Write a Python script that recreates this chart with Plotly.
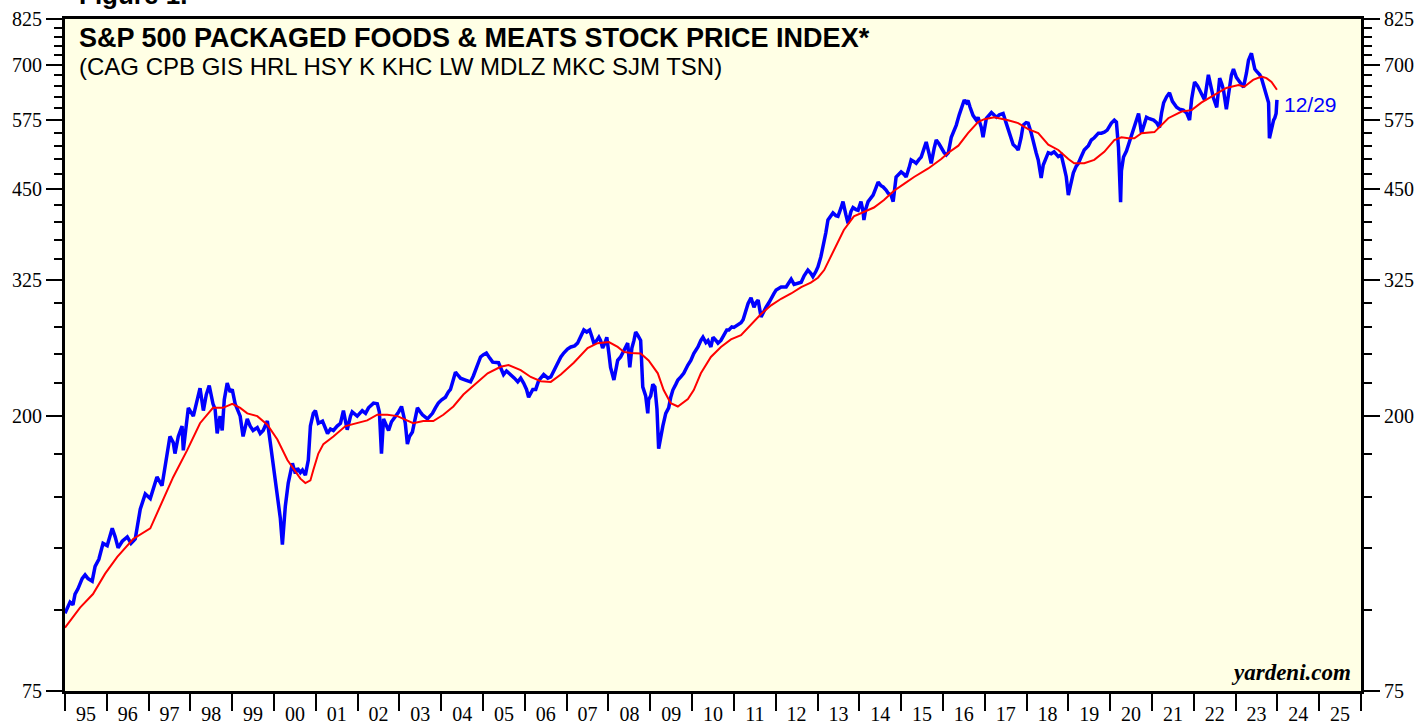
import math
import pandas as pd
import plotly.graph_objects as go

# ---- data (decimal year, index value) ----
blue_series = [
    (1995.00, 99), (1995.07, 101), (1995.12, 103), (1995.19, 102), (1995.24, 106), (1995.31, 108),
    (1995.41, 112), (1995.48, 113.5), (1995.55, 112), (1995.65, 111), (1995.72, 117), (1995.81, 120),
    (1995.91, 127), (1996.01, 126), (1996.13, 134), (1996.20, 130), (1996.27, 125), (1996.37, 128),
    (1996.49, 130), (1996.58, 127), (1996.68, 129), (1996.80, 143.5), (1996.92, 151.5), (1997.04, 149),
    (1997.13, 156), (1997.20, 161), (1997.32, 156), (1997.40, 169), (1997.51, 186), (1997.59, 182),
    (1997.63, 175), (1997.71, 186), (1997.80, 193), (1997.83, 177), (1997.90, 195), (1997.95, 206),
    (1998.07, 200), (1998.16, 212), (1998.23, 221), (1998.31, 204), (1998.38, 216), (1998.45, 223),
    (1998.54, 209), (1998.59, 205), (1998.64, 188), (1998.71, 200), (1998.76, 190), (1998.81, 212),
    (1998.88, 225), (1998.95, 218), (1999.00, 220), (1999.07, 209), (1999.19, 200), (1999.26, 186),
    (1999.36, 198), (1999.43, 193), (1999.50, 190), (1999.60, 192), (1999.67, 188), (1999.74, 190),
    (1999.84, 196.5), (1999.91, 182), (1999.98, 167), (2000.03, 160), (2000.08, 149), (2000.15, 139),
    (2000.20, 126.5), (2000.25, 138), (2000.27, 145), (2000.34, 157.5), (2000.44, 169), (2000.51, 163),
    (2000.56, 166), (2000.63, 163.5), (2000.68, 165), (2000.75, 162), (2000.82, 171), (2000.87, 193),
    (2000.94, 202), (2000.99, 204), (2001.06, 195), (2001.16, 196.5), (2001.23, 192), (2001.28, 188),
    (2001.35, 191), (2001.42, 190), (2001.51, 193), (2001.59, 195), (2001.66, 204), (2001.75, 190.5),
    (2001.83, 200), (2001.87, 203), (2001.99, 200), (2002.11, 204), (2002.19, 202), (2002.26, 206),
    (2002.38, 209.5), (2002.47, 209), (2002.52, 203), (2002.57, 175), (2002.62, 198), (2002.69, 194),
    (2002.74, 190), (2002.81, 196), (2002.86, 198), (2002.98, 203), (2003.05, 207), (2003.10, 200),
    (2003.14, 195), (2003.19, 181), (2003.24, 186), (2003.31, 189), (2003.38, 200), (2003.43, 206),
    (2003.50, 203), (2003.55, 201), (2003.67, 198), (2003.79, 202), (2003.86, 206), (2003.93, 209.5),
    (2004.01, 212), (2004.10, 214), (2004.17, 218), (2004.22, 220), (2004.29, 228), (2004.34, 234),
    (2004.41, 231), (2004.46, 229), (2004.58, 227.5), (2004.70, 226), (2004.77, 231), (2004.82, 235.7),
    (2004.89, 242), (2004.94, 247), (2005.01, 249), (2005.08, 250.5), (2005.16, 246), (2005.23, 242.5),
    (2005.37, 242), (2005.49, 232), (2005.56, 235), (2005.66, 232), (2005.75, 229), (2005.83, 226),
    (2005.90, 229), (2005.97, 225), (2006.04, 220), (2006.09, 214), (2006.19, 220), (2006.26, 220),
    (2006.33, 227), (2006.45, 232), (2006.55, 229), (2006.62, 230), (2006.71, 236), (2006.78, 242),
    (2006.86, 247), (2006.93, 250.5), (2007.02, 254), (2007.10, 256), (2007.19, 257), (2007.26, 259.5),
    (2007.34, 266), (2007.41, 272), (2007.48, 270), (2007.55, 272), (2007.60, 266), (2007.65, 259.5),
    (2007.72, 262), (2007.77, 265), (2007.81, 262), (2007.86, 255), (2007.91, 259), (2007.96, 265),
    (2008.01, 250), (2008.05, 238), (2008.13, 227.5), (2008.17, 236), (2008.22, 244), (2008.29, 247),
    (2008.34, 250.5), (2008.41, 256), (2008.46, 259.5), (2008.51, 238), (2008.56, 255), (2008.61, 262),
    (2008.65, 270), (2008.70, 267), (2008.77, 262), (2008.82, 222), (2008.89, 215), (2008.94, 202),
    (2008.96, 212), (2009.01, 215), (2009.06, 224), (2009.11, 222), (2009.16, 205), (2009.20, 178),
    (2009.25, 187), (2009.30, 193), (2009.37, 202), (2009.44, 206), (2009.49, 214), (2009.54, 219.5),
    (2009.61, 224), (2009.66, 227.5), (2009.73, 230), (2009.80, 233), (2009.90, 240), (2009.97, 244),
    (2010.04, 250), (2010.14, 256), (2010.21, 262), (2010.26, 265), (2010.33, 260), (2010.38, 262),
    (2010.45, 256), (2010.50, 265), (2010.57, 262), (2010.62, 259.5), (2010.69, 262), (2010.76, 267),
    (2010.83, 272), (2010.88, 272), (2010.95, 275), (2011.00, 274.5), (2011.10, 277.5), (2011.17, 279),
    (2011.22, 282), (2011.29, 292), (2011.34, 299), (2011.41, 305), (2011.48, 295), (2011.53, 300),
    (2011.58, 302.6), (2011.65, 285), (2011.72, 292), (2011.77, 295), (2011.84, 300), (2011.89, 305),
    (2011.96, 310), (2012.01, 313.6), (2012.08, 315), (2012.13, 317), (2012.25, 317), (2012.32, 322),
    (2012.37, 326), (2012.44, 320), (2012.49, 320.5), (2012.61, 322.5), (2012.68, 330), (2012.77, 336.8),
    (2012.84, 333), (2012.89, 329), (2012.96, 335), (2013.01, 340.5), (2013.08, 353), (2013.16, 371),
    (2013.20, 385), (2013.25, 402.7), (2013.32, 410), (2013.37, 413), (2013.44, 409), (2013.49, 408),
    (2013.56, 420), (2013.61, 430), (2013.68, 410), (2013.73, 398), (2013.80, 415), (2013.85, 421),
    (2013.92, 418), (2013.97, 417), (2014.04, 430), (2014.09, 415), (2014.11, 402.7), (2014.16, 420),
    (2014.21, 430), (2014.28, 437), (2014.33, 440), (2014.40, 452), (2014.45, 461), (2014.52, 455),
    (2014.57, 453), (2014.64, 448), (2014.69, 443), (2014.76, 440), (2014.81, 430), (2014.88, 469.5),
    (2014.95, 475), (2015.00, 478), (2015.07, 474), (2015.12, 469.5), (2015.19, 485), (2015.24, 499),
    (2015.31, 496), (2015.36, 493), (2015.43, 500), (2015.48, 504), (2015.55, 520), (2015.60, 532),
    (2015.67, 510), (2015.72, 493), (2015.79, 520), (2015.84, 535.7), (2015.91, 528), (2015.96, 520.5),
    (2016.03, 512), (2016.08, 508), (2016.13, 512), (2016.20, 541), (2016.27, 553), (2016.32, 565),
    (2016.39, 586), (2016.44, 600), (2016.51, 617.8), (2016.56, 612), (2016.60, 617), (2016.65, 602),
    (2016.72, 585), (2016.80, 575), (2016.84, 581), (2016.92, 560), (2016.96, 541), (2017.04, 579),
    (2017.11, 585), (2017.16, 591), (2017.23, 585), (2017.28, 581), (2017.35, 586), (2017.44, 589),
    (2017.51, 570), (2017.56, 558), (2017.63, 540), (2017.68, 527), (2017.75, 522), (2017.80, 517),
    (2017.87, 540), (2017.92, 565), (2017.99, 570), (2018.04, 569), (2018.11, 550), (2018.16, 532),
    (2018.23, 512), (2018.28, 499), (2018.35, 468), (2018.40, 490), (2018.47, 505), (2018.52, 512),
    (2018.59, 510), (2018.66, 513.6), (2018.76, 505), (2018.83, 508), (2018.90, 486), (2018.95, 470),
    (2019.00, 440), (2019.05, 455), (2019.12, 476.5), (2019.19, 488), (2019.24, 493), (2019.31, 505),
    (2019.38, 517), (2019.48, 525), (2019.55, 535.7), (2019.62, 540), (2019.72, 549), (2019.79, 549),
    (2019.86, 551), (2019.93, 555), (2020.03, 569), (2020.10, 575), (2020.15, 571), (2020.20, 522),
    (2020.25, 429), (2020.27, 480), (2020.32, 504), (2020.39, 515), (2020.44, 527), (2020.51, 540),
    (2020.56, 555), (2020.63, 575), (2020.68, 589), (2020.75, 549), (2020.82, 570), (2020.87, 581),
    (2020.94, 578), (2021.04, 575), (2021.11, 570), (2021.18, 560), (2021.23, 590), (2021.28, 612),
    (2021.35, 625), (2021.42, 634), (2021.49, 615), (2021.59, 602), (2021.66, 598), (2021.75, 596),
    (2021.83, 590), (2021.90, 575), (2021.95, 620), (2022.02, 659), (2022.09, 650), (2022.14, 641),
    (2022.21, 625), (2022.26, 618), (2022.31, 650), (2022.35, 676), (2022.43, 640), (2022.47, 623),
    (2022.55, 602), (2022.62, 668), (2022.67, 655), (2022.71, 641), (2022.78, 598), (2022.86, 659),
    (2022.90, 675), (2022.95, 690), (2023.02, 670), (2023.07, 663), (2023.14, 655), (2023.19, 647),
    (2023.26, 680), (2023.31, 712), (2023.38, 730), (2023.46, 690), (2023.50, 685), (2023.58, 676),
    (2023.62, 668), (2023.70, 641), (2023.74, 625), (2023.79, 612), (2023.81, 539), (2023.86, 560),
    (2023.91, 575), (2023.94, 580), (2023.97, 589), (2023.99, 618),
]

red_series = [
    (1995.00, 94), (1995.05, 95), (1995.36, 101), (1995.67, 106), (1995.96, 114), (1996.25, 121),
    (1996.63, 129), (1997.04, 134), (1997.28, 145), (1997.59, 161), (1997.92, 177), (1998.23, 195),
    (1998.54, 206), (1998.78, 206), (1999.00, 209), (1999.19, 206), (1999.36, 202), (1999.60, 200),
    (1999.84, 194), (2000.08, 184), (2000.32, 171), (2000.46, 166), (2000.63, 160), (2000.75, 157.5),
    (2000.87, 159), (2000.94, 165), (2001.06, 175), (2001.18, 181), (2001.42, 186), (2001.71, 193),
    (2001.99, 195), (2002.23, 197), (2002.47, 201), (2002.71, 201), (2002.95, 200), (2003.10, 198),
    (2003.33, 195), (2003.57, 196.5), (2003.81, 196.5), (2004.05, 201), (2004.29, 207), (2004.53, 216),
    (2004.77, 223), (2005.11, 233), (2005.42, 238.5), (2005.61, 240), (2005.90, 235.7), (2006.14, 230),
    (2006.38, 226.5), (2006.62, 226), (2006.86, 232), (2007.17, 242), (2007.50, 255), (2007.74, 259.5),
    (2008.01, 260.5), (2008.22, 256), (2008.37, 251.5), (2008.53, 250.5), (2008.77, 250), (2008.96, 244),
    (2009.18, 233), (2009.32, 219.5), (2009.49, 209.5), (2009.66, 207), (2009.90, 212.5), (2010.04, 219.5),
    (2010.21, 233), (2010.45, 247), (2010.69, 256), (2010.93, 263), (2011.17, 267), (2011.41, 277.5),
    (2011.65, 288), (2011.89, 297), (2012.13, 304), (2012.37, 309.8), (2012.61, 317), (2012.84, 322),
    (2013.01, 327.7), (2013.16, 336.8), (2013.32, 353), (2013.49, 371), (2013.63, 388.6), (2013.87, 408),
    (2014.11, 414), (2014.35, 421), (2014.59, 432.5), (2014.83, 447), (2015.07, 458), (2015.31, 469.5),
    (2015.65, 484), (2015.96, 500.5), (2016.13, 512), (2016.37, 525), (2016.60, 549), (2016.84, 571),
    (2016.99, 577), (2017.23, 581), (2017.56, 575), (2017.80, 569), (2018.04, 557), (2018.28, 549),
    (2018.52, 527), (2018.76, 517), (2019.00, 500.5), (2019.14, 493), (2019.38, 493), (2019.62, 499),
    (2019.86, 513.6), (2020.10, 535.7), (2020.27, 541), (2020.44, 539), (2020.58, 539), (2020.75, 549),
    (2021.06, 551), (2021.39, 579), (2021.71, 593), (2021.95, 596), (2022.18, 612), (2022.50, 629),
    (2022.78, 645), (2023.07, 652), (2023.21, 648), (2023.42, 664), (2023.62, 672), (2023.74, 668),
    (2023.86, 659), (2023.99, 641),
]

y_major_ticks = [75, 200, 325, 450, 575, 700, 825]
y_major_labels = ["75", "200", "325", "450", "575", "700", "825"]
y_minor_ticks = [100, 125, 150, 175, 225, 250, 275, 300, 350, 375, 400, 425,
                 475, 500, 525, 550, 600, 625, 650, 675, 725, 750, 775, 800]
y_range_vals = [75, 825]
x_range_dates = ["1995-01-01", "2026-01-01"]

title_text = "S&P 500 PACKAGED FOODS & MEATS STOCK PRICE INDEX*"
subtitle_text = "(CAG CPB GIS HRL HSY K KHC LW MDLZ MKC SJM TSN)"
last_label = "12/29"
source_text = "yardeni.com"
figure_text = "Figure 1."


def to_dates(ts):
    base = pd.Timestamp("1995-01-01")
    return [base + pd.Timedelta(days=(t - 1995.0) * 365.25) for t in ts]


blue_x = to_dates([p[0] for p in blue_series])
blue_y = [p[1] for p in blue_series]
red_x = to_dates([p[0] for p in red_series])
red_y = [p[1] for p in red_series]

BLUE = "#0000FF"
RED = "#FF0000"
SERIF = "Liberation Serif, Times New Roman, serif"
SANS = "Liberation Sans, Arial, sans-serif"

fig = go.Figure()
fig.add_trace(go.Scatter(x=blue_x, y=blue_y, mode="lines",
                         line=dict(color=BLUE, width=3.5), hoverinfo="skip"))
fig.add_trace(go.Scatter(x=red_x, y=red_y, mode="lines",
                         line=dict(color=RED, width=2), hoverinfo="skip"))
# invisible trace so the right-hand axis is drawn
fig.add_trace(go.Scatter(x=[blue_x[0]], y=[blue_y[0]], yaxis="y2", mode="markers",
                         marker=dict(opacity=0), hoverinfo="skip"))

yrange = [math.log10(y_range_vals[0]), math.log10(y_range_vals[1])]

yaxis_common = dict(
    type="log", range=yrange, automargin=False,
    tickmode="array", tickvals=y_major_ticks, ticktext=y_major_labels,
    ticks="outside", ticklen=16, tickwidth=2, tickcolor="black",
    showline=True, linewidth=3, linecolor="black",
    showgrid=False, zeroline=False,
    tickfont=dict(family=SERIF, size=20, color="black"),
    minor=dict(tickmode="array", tickvals=y_minor_ticks, ticks="outside",
               ticklen=8, tickwidth=2, tickcolor="black", showgrid=False),
)

fig.update_layout(
    width=1416, height=721, autosize=False,
    margin=dict(l=65, r=55, t=19, b=30, pad=0, autoexpand=False),
    paper_bgcolor="white", plot_bgcolor="#FFFFE5",
    showlegend=False,
    xaxis=dict(
        type="date", range=x_range_dates, automargin=False,
        tickmode="linear", tick0="1995-01-01", dtick="M12",
        tickformat="%y", ticklabelmode="period",
        ticks="outside", ticklen=17, tickwidth=2, tickcolor="black",
        ticklabelstandoff=-14,
        showline=True, linewidth=3, linecolor="black", mirror=True,
        showgrid=False, zeroline=False,
        tickfont=dict(family=SERIF, size=20, color="black"),
    ),
    yaxis=dict(side="left", **yaxis_common),
    yaxis2=dict(side="right", overlaying="y", **yaxis_common),
)

fig.add_annotation(text="<b>" + title_text + "</b>", xref="paper", yref="paper",
                   x=0.0093, y=0.9723, xanchor="left", yanchor="middle", showarrow=False,
                   font=dict(family=SANS, size=27, color="black"))
fig.add_annotation(text=subtitle_text, xref="paper", yref="paper",
                   x=0.0093, y=0.9292, xanchor="left", yanchor="middle", showarrow=False,
                   font=dict(family=SANS, size=24, color="black"))
fig.add_annotation(text=last_label, xref="paper", yref="paper",
                   x=0.9391, y=0.8725, xanchor="left", yanchor="middle", showarrow=False,
                   font=dict(family=SANS, size=21, color=BLUE))
fig.add_annotation(text="<b><i>" + source_text + "</i></b>", xref="paper", yref="paper",
                   x=0.9938, y=0.0268, xanchor="right", yanchor="middle", showarrow=False,
                   font=dict(family=SERIF, size=23, color="black"))
fig.add_annotation(text="<b>" + figure_text + "</b>", xref="paper", yref="paper",
                   x=0.0093, y=1.0357, xanchor="left", yanchor="middle", showarrow=False,
                   font=dict(family=SANS, size=26, color="black"))

fig.write_html("out.html", config={"displayModeBar": False},
               post_script="document.body.style.margin='0';document.body.style.padding='0';")
